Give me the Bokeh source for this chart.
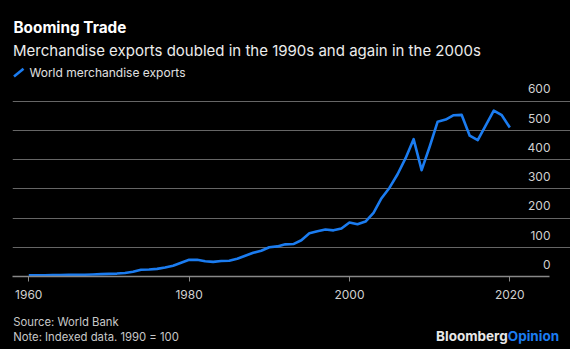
from bokeh.plotting import figure
from bokeh.layouts import column
from bokeh.models import Range1d, FixedTicker, Label, Arrow, ColumnDataSource
from bokeh.core.properties import value
from bokeh.embed import file_html
from bokeh.resources import INLINE

# ---- data (index, 1990 = 100) ----
years = list(range(1960, 2021))
exports = [4, 4, 4, 5, 5, 6, 6, 6, 7, 8,
           9, 10, 12, 16, 23, 24, 26, 31, 37, 47,
           57, 57, 52, 50, 53, 54, 61, 71, 81, 88,
           100, 103, 110, 111, 124, 148, 155, 161, 158, 164,
           185, 179, 188, 218, 268, 304, 350, 405, 470, 364,
           444, 530, 537, 552, 553, 482, 467, 517, 568, 552,
           510]
x_ticks = [1960, 1980, 2000, 2020]
y_ticks = [0, 100, 200, 300, 400, 500, 600]
y_tick_labels = ["0", "100", "200", "300", "400", "500", "600"]

title = "Booming Trade"
subtitle = "Merchandise exports doubled in the 1990s and again in the 2000s"
series_name = "World merchandise exports"
source_note = "Source: World Bank"
index_note = "Note: Indexed data. 1990 = 100"

# ---- style ----
BG = "#000000"
BLUE = "#1b7cf0"
GRID = "#666666"
FONT = "Inter"

# frame spans canvas x 12..570; grid and axis line stop at GRID_END (canvas x 549)
X_START, X_END = 1957.97, 2027.57
GRID_END = 2024.95
Y_START, Y_END = 0, 944.6

p = figure(width=570, height=307, output_backend="svg", toolbar_location=None,
           x_range=Range1d(X_START, X_END), y_range=Range1d(Y_START, Y_END),
           y_axis_location=None, background_fill_color=BG,
           border_fill_color=BG, outline_line_color=None,
           min_border_left=12, min_border_right=0,
           min_border_top=0, min_border_bottom=31)
p.outline_line_color = None

p.xaxis.ticker = FixedTicker(ticks=x_ticks)
p.xaxis.bounds = (X_START, GRID_END)
p.xaxis.axis_line_color = "#888888"
p.xaxis.axis_line_width = 1.5
p.xaxis.major_tick_line_color = "#888888"
p.xaxis.major_tick_in = 0
p.xaxis.major_tick_out = 5
p.xaxis.minor_tick_line_color = None
p.xaxis.major_label_text_color = "#d0d0d0"
p.xaxis.major_label_text_font = FONT
p.xaxis.major_label_text_font_size = "12px"
p.xaxis.major_label_standoff = 8

p.xgrid.grid_line_color = None
p.ygrid.ticker = FixedTicker(ticks=y_ticks)
p.ygrid.bounds = (X_START, GRID_END)
p.ygrid.grid_line_color = GRID
p.ygrid.grid_line_width = 1.2

src = ColumnDataSource(dict(x=years, y=exports))
p.line("x", "y", source=src, line_color=BLUE, line_width=2.6, line_join="round")

# y tick labels above the grid lines, right aligned at the grid end
lab = ColumnDataSource(dict(x=[GRID_END] * len(y_ticks), y=y_ticks, t=y_tick_labels))
p.text("x", "y", text="t", source=lab, text_align="right", text_baseline="middle",
       x_offset=1, y_offset=-12.2, text_color="#d0d0d0", text_font=value(FONT),
       text_font_size="12px")


def add_label(fig, text, x, y, size, color, bold=False, align="left", units="screen"):
    fig.add_layout(Label(x=x, y=y, x_units=units, y_units=units, text=text,
                         text_color=color, text_font=FONT, text_font_size=size,
                         text_font_style="bold" if bold else "normal",
                         text_baseline="middle", text_align=align))


# header inside the frame (frame bottom-left at canvas (12, 276)); y = text middle
FB = 276
add_label(p, title, 1, FB - 27.3, "15.3px", "#ffffff", bold=True)
add_label(p, subtitle, 0.5, FB - 49.8, "15px", "#ececec")
add_label(p, series_name, 17, FB - 72, "12px", "#e0e0e0")
p.add_layout(Arrow(end=None, x_start=1.5, y_start=FB - 76, x_end=11, y_end=FB - 68.3,
                   start_units="screen", end_units="screen",
                   line_color=BLUE, line_width=2.6))

# footer: its own small figure, 42 px tall, canvas y 307..349; data units = canvas px
f = figure(width=570, height=42, output_backend="svg", toolbar_location=None,
           x_range=Range1d(12, 570), y_range=Range1d(349, 307),
           x_axis_location=None, y_axis_location=None,
           background_fill_color=BG, border_fill_color=BG, outline_line_color=None,
           min_border_left=12, min_border_right=0, min_border_top=0, min_border_bottom=0)
f.outline_line_color = None
f.xgrid.visible = False
f.ygrid.visible = False
add_label(f, source_note, 12.7, 321.9, "11.3px", "#c8c8c8", units="data")
add_label(f, index_note, 12.7, 336.3, "11.3px", "#c8c8c8", units="data")
add_label(f, "Bloomberg", 507.3, 335, "13.5px", "#e8e8e8", bold=True, align="right", units="data")
add_label(f, "Opinion", 507.3, 335, "13.5px", BLUE, bold=True, align="left", units="data")

layout = column(p, f, spacing=0, styles={"background-color": BG})
open("out.html", "w").write(file_html(layout, INLINE))
